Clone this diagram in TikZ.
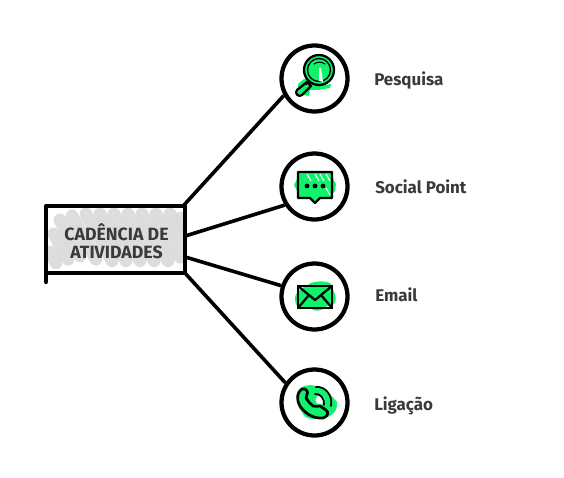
\documentclass[tikz,border=0pt]{standalone}
\usepackage{fontspec}
\setmainfont{Fira Sans}
\usetikzlibrary{calc}
\definecolor{ink}{HTML}{3A3A3C}
\definecolor{neon}{HTML}{0EF26C}
\tikzset{
 ring/.style={circle,draw=black,line width=3.2pt,minimum size=49.5pt,inner sep=0pt,fill=white},
 link/.style={draw=black,line width=2.7pt},
 lab/.style={font=\fontsize{12.7}{15}\selectfont\bfseries,text=ink,anchor=base west,inner sep=0pt},
 ico/.style={draw=black,line width=1.7pt,line join=round,line cap=round},
 blob/.style={fill=neon,draw=none},
}
\begin{document}
\begin{tikzpicture}[x=0.75pt,y=-0.75pt]
\useasboundingbox (0,0) rectangle (564,478);
% central box scribble
\begin{scope}
\clip (46,206) rectangle (185,274);
\foreach \x/\y/\l in {54/234/28,60/220/40,72/216/48,86/214/52,100/214/52,114/214/52,128/214/52,142/214/52,156/214/48,170/214/40,181/218/30,50/252/12}{
  \draw[gray!30,opacity=.9,line width=9.6pt,line cap=round] (\x,\y) -- ++(\l*0.5,\l*0.9);
}
\end{scope}
\node[minimum width=102.75pt,minimum height=48pt,inner sep=0pt,align=center,font=\fontsize{13.3}{13.4}\selectfont\bfseries,text=ink] (box) at (116.5,241) {CADÊNCIA DE\\ATIVIDADES};
\draw[black,line width=3.2pt,line cap=round,line join=round] (46,282) -- (46,206) -- (185,206) -- (185,273) -- (46,273);
\coordinate (p1) at ($(box.north east)+(-1,-4)$);
\coordinate (p2) at ($(box.east)+(0,-5)$);
\coordinate (p3) at ($(box.east)+(0,16)$);
\coordinate (p4) at ($(box.south east)+(-1,-1)$);
% circles
\node[ring] (c1) at (314.5,78.5) {};
\node[ring] (c2) at (314.5,186.5) {};
\node[ring] (c3) at (314.5,296.5) {};
\node[ring] (c4) at (314.5,402.5) {};
\draw[link] (p1) -- (c1.209);
\draw[link] (p2) -- (c2.212);
\draw[link] (p3) -- (c3.162);
\draw[link] (p4) -- (c4.146);
% labels
\path (374,86) node[lab] (l1) {Pesquisa};
\path (375,193) node[lab] (l2) {Social Point};
\path (375,301) node[lab] (l3) {Email};
\path (374,410) node[lab] (l4) {Ligação};
% search icon
\fill[blob] (298,84) -- (304,79) -- (312,80) -- (318,86) -- (331,84) -- (330,88) -- (318,90) -- (310,90) -- (309,96) -- (298,94) -- cycle;
\fill[neon] (319,70) circle[radius=15];
\draw[ico] (319,70) circle[radius=15];
\draw[black,line width=1pt] (319,70) circle[radius=11.5];
\draw[black,line width=0.8pt,line cap=round] (314,64) to[bend left=35] (325,64);
\fill[white] (319,68) -- (321,68) -- (323,82) -- (319,81) -- cycle;
\draw[ico] (309,81) -- (306,84);
\draw[ico] (307,82) -- (311,86) -- (302,95) .. controls (299,98) and (294,93) .. (297,90) -- cycle;
% chat icon
\fill[blob] (294,185) -- (299,175) -- (331,175) -- (336,184) -- (335,191) -- (331,195) -- (298,193) -- cycle;
\draw[ico,fill=neon] (298,172) -- (332,172) -- (332,198) -- (320,198) -- (315,203) -- (310,198) -- (298,198) -- cycle;
\foreach \a in {{(307,174)},{(315,174)},{(320,174)},{(326,174)},{(326,188)}}{\draw[white,line width=0.8pt] \a -- ++(4,7);}
\fill[black] (307,186) circle[radius=2.4] (315,186) circle[radius=2.4] (323,186) circle[radius=2.4];
% mail icon
\fill[blob] (295,300) .. controls (294,290) and (306,287) .. (311,283) .. controls (320,280) and (334,281) .. (332,288) .. controls (338,298) and (337,306) .. (327,306) .. controls (321,312) and (314,312) .. (310,308) .. controls (300,311) and (295,306) .. (295,300) -- cycle;
\draw[ico] (298,286) rectangle (332,308);
\draw[ico] (298,286) -- (315,300) -- (332,286);
\draw[ico] (298,308) -- (309,295);
\draw[ico] (332,308) -- (321,295);
% phone icon
\fill[blob] (297,395) .. controls (298,385) and (310,384) .. (316,386) .. controls (325,388) and (332,396) .. (337,402) .. controls (338,410) and (332,418) .. (322,418) .. controls (315,420) and (305,420) .. (302,412) .. controls (298,408) and (296,402) .. (297,395) -- cycle;
\fill[white] (320,400) circle[radius=4.5];
\draw[ico,line width=2pt] (302,389) .. controls (297,392) and (296,399) .. (300,406) .. controls (305,414) and (315,419) .. (323,418) .. controls (328,417) and (329,412) .. (326,410) -- (320,406) .. controls (317,405) and (316,408) .. (313,406) .. controls (310,404) and (308,401) .. (306,398) .. controls (305,395) and (309,394) .. (307,391) .. controls (306,389) and (304,388) .. (302,389) -- cycle;
\draw[black,line width=1.3pt,line cap=round] (315,394) .. controls (320,393) and (325,399) .. (324,405);
\draw[black,line width=1.3pt,line cap=round] (316,387) .. controls (325,386) and (333,395) .. (331,406);
\end{tikzpicture}
\end{document}
